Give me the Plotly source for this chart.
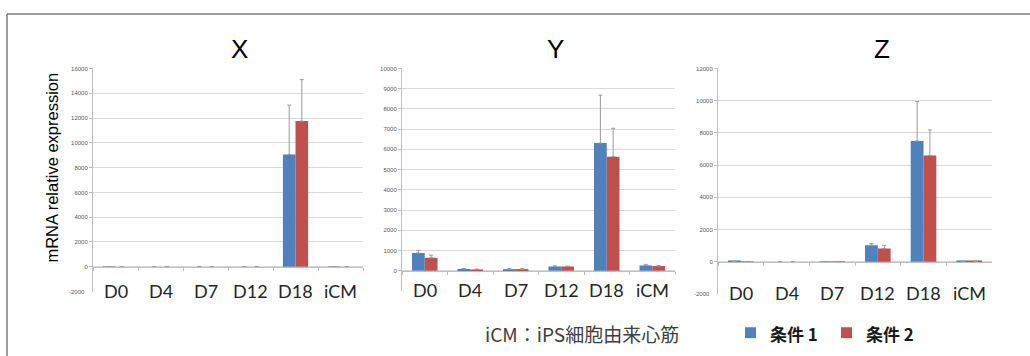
import plotly.graph_objects as go

W, H = 1030, 356

categories = ["D0", "D4", "D7", "D12", "D18", "iCM"]

# gene X (None = no error bar drawn)
x_cond1 = [20, 0, 0, 0, 9050, 20]
x_cond1_err = [None, None, None, None, 3990, None]
x_cond2 = [0, 0, 0, 0, 11750, 0]
x_cond2_err = [None, None, None, None, 3350, None]

# gene Y
y_cond1 = [880, 90, 80, 210, 6310, 260]
y_cond1_err = [130, 20, 20, 30, 2370, 40]
y_cond2 = [640, 60, 80, 210, 5640, 230]
y_cond2_err = [130, 20, 20, 20, 1400, 30]

# gene Z
z_cond1 = [30, 0, 20, 1030, 7500, 40]
z_cond1_err = [None, None, None, 100, 2450, None]
z_cond2 = [20, 0, 20, 820, 6600, 30]
z_cond2_err = [None, None, None, 190, 1580, None]

panel_titles = ["X", "Y", "Z"]
series_names = ["条件 1", "条件 2"]
footnote = "iCM：iPS細胞由来心筋"

BLUE = "#4F81BD"
RED = "#C0504D"
ERR = "#9a9a9a"
GRID = "#d9d9d9"
AXIS = "#bfbfbf"

# pixel layout of each panel
panels = [
    dict(x0=93, x1=363, top=66, bottom=291, rng=(-2000, 16000), step=2000, zero=266, title_x=239,
         c1=x_cond1, e1=x_cond1_err, c2=x_cond2, e2=x_cond2_err, low_label=True),
    dict(x0=402, x1=675, top=66, bottom=290.4, rng=(-1000, 10000), step=1000, zero=270, title_x=555,
         c1=y_cond1, e1=y_cond1_err, c2=y_cond2, e2=y_cond2_err, low_label=False),
    dict(x0=718, x1=992, top=66, bottom=293.5, rng=(-2000, 12000), step=2000, zero=261, title_x=882,
         c1=z_cond1, e1=z_cond1_err, c2=z_cond2, e2=z_cond2_err, low_label=True),
]

def px(v):
    return v / W

def py(v):
    return 1 - v / H

fig = go.Figure()
annotations = []
shapes = []

for i, p in enumerate(panels):
    n = i + 1
    xa = "x" if n == 1 else f"x{n}"
    ya = "y" if n == 1 else f"y{n}"
    for vals, errs, color, name in ((p["c1"], p["e1"], BLUE, series_names[0]),
                                    (p["c2"], p["e2"], RED, series_names[1])):
        fig.add_trace(go.Bar(
            x=categories, y=vals, name=name, marker=dict(color=color, line=dict(width=0)),
            error_y=dict(type="data", array=errs, arrayminus=[0 if e is not None else None for e in errs],
                         symmetric=False, color=ERR, thickness=1, width=2),
            xaxis=xa, yaxis=ya, showlegend=False,
        ))
    lo, hi = p["rng"]
    tickvals = list(range(0, hi + 1, p["step"]))
    fig.update_layout(**{
        ("xaxis" if n == 1 else f"xaxis{n}"): dict(
            domain=[px(p["x0"]), px(p["x1"])], anchor="free", position=py(p["zero"]),
            showline=True, linecolor=AXIS, linewidth=1, ticks="outside", ticklen=3,
            tickcolor=AXIS, tickson="boundaries", showticklabels=False, showgrid=False,
            range=[-0.5, 5.5], fixedrange=True,
        ),
        ("yaxis" if n == 1 else f"yaxis{n}"): dict(
            domain=[py(p["bottom"]), py(p["top"])], anchor=xa, range=[lo, hi],
            tickvals=tickvals, ticktext=[str(v) for v in tickvals],
            tickfont=dict(family="Liberation Sans", size=6, color="#595959"),
            showline=True, linecolor=AXIS, linewidth=1, ticks="outside", ticklen=3,
            tickcolor=AXIS, showgrid=True, gridcolor=GRID, gridwidth=1,
            zeroline=False, fixedrange=True,
        ),
    })
    if p["low_label"]:
        annotations.append(dict(
            x=px(p["x0"]) - 6 / W, y=lo, xref="paper", yref=ya, text=str(lo),
            showarrow=False, xanchor="right", yanchor="middle",
            font=dict(family="Liberation Sans", size=6, color="#595959"),
        ))
    for c in categories:
        annotations.append(dict(
            x=c, y=lo, xref=xa, yref=ya, text=c, showarrow=False,
            xanchor="center", yanchor="middle", yshift=1,
            font=dict(family="Lato", size=18, color="#262626"),
        ))
    annotations.append(dict(
        x=px(p["title_x"]), y=py(46), xref="paper", yref="paper",
        text=panel_titles[i], showarrow=False, xanchor="center", yanchor="middle",
        font=dict(family="Liberation Sans", size=26, color="#000000"),
    ))

# shared y-axis title
annotations.append(dict(
    x=px(52), y=py(166), xref="paper", yref="paper", text="mRNA relative expression",
    textangle=-90, showarrow=False, xanchor="center", yanchor="middle",
    font=dict(family="Liberation Sans", size=16.5, color="#000000"),
))

# footnote and legend
annotations.append(dict(
    x=px(483), y=py(333), xref="paper", yref="paper", text=footnote, showarrow=False,
    xanchor="left", yanchor="middle",
    font=dict(family="Noto Sans CJK JP", size=19, color="#404040"),
))
legend_items = [(745, BLUE, series_names[0]), (841, RED, series_names[1])]
for lx, color, label in legend_items:
    shapes.append(dict(type="rect", xref="paper", yref="paper",
                       x0=px(lx), x1=px(lx + 11), y0=py(338), y1=py(327),
                       fillcolor=color, line=dict(width=0)))
    annotations.append(dict(
        x=px(lx + 23), y=py(333), xref="paper", yref="paper", text="<b>" + label + "</b>",
        showarrow=False, xanchor="left", yanchor="middle",
        font=dict(family="Noto Sans CJK JP", size=17, color="#1a1a1a"),
    ))

# outer frame (left and top edges)
shapes.append(dict(type="line", xref="paper", yref="paper", x0=px(7), x1=px(7), y0=0, y1=py(11),
                   line=dict(color="#7a7a7a", width=1.5)))
shapes.append(dict(type="line", xref="paper", yref="paper", x0=px(7), x1=1, y0=py(11), y1=py(11),
                   line=dict(color="#7a7a7a", width=1.5)))

fig.update_layout(
    width=W, height=H, margin=dict(l=0, r=0, t=0, b=0),
    paper_bgcolor="white", plot_bgcolor="white",
    barmode="group", bargap=0.44, bargroupgap=0,
    showlegend=False, annotations=annotations, shapes=shapes,
)

fig.write_html("out.html", config={"displayModeBar": False})
